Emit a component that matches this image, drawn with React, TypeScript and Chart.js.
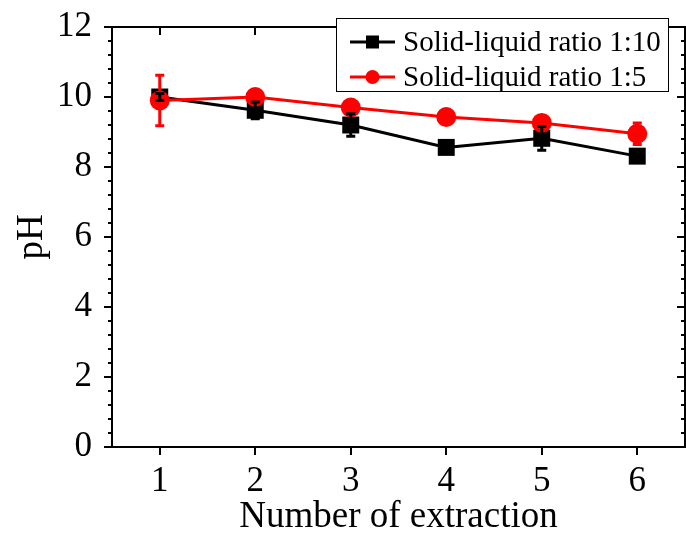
import React, { useEffect, useRef } from "react";
import { Chart, registerables } from "chart.js";

Chart.register(...registerables);

const FONT = "'Liberation Serif', 'Times New Roman', serif";

const extractions = [1, 2, 3, 4, 5, 6];
const xTickValues = [1, 2, 3, 4, 5, 6];
const yMajorTicks = [0, 2, 4, 6, 8, 10, 12];

const label110 = "Solid-liquid ratio 1:10";
const ph110 = [10.0, 9.62, 9.2, 8.56, 8.82, 8.31];
const err110 = [0.1, 0.24, 0.32, 0.12, 0.34, 0.1];

const label15 = "Solid-liquid ratio 1:5";
const ph15 = [9.9, 10.0, 9.7, 9.43, 9.26, 8.95];
const err15 = [0.72, 0.1, 0.1, 0.08, 0.1, 0.31];

const xTitle = "Number of extraction";
const yTitle = "pH";

const W = 686;
const H = 536;
// target plot-area frame (pixels)
const AREA = { left: 112, right: 685, top: 27, bottom: 447 };

const framePlugin = {
  id: "frame",
  afterDatasetsDraw(chart: any) {
    const ctx = chart.ctx;
    const xs = chart.scales.x;
    const ys = chart.scales.y;
    const order = [1, 0];
    order.forEach((di) => {
      const ds = chart.data.datasets[di];
      const errs: number[] = ds.errorBars;
      ctx.save();
      ctx.strokeStyle = ds.borderColor;
      ctx.lineWidth = 3;
      ds.data.forEach((p: any, i: number) => {
        const x = xs.getPixelForValue(p.x);
        const y1 = ys.getPixelForValue(p.y + errs[i]);
        const y2 = ys.getPixelForValue(p.y - errs[i]);
        ctx.beginPath();
        ctx.moveTo(x, y1);
        ctx.lineTo(x, y2);
        ctx.moveTo(x - 4.5, y1);
        ctx.lineTo(x + 4.5, y1);
        ctx.moveTo(x - 4.5, y2);
        ctx.lineTo(x + 4.5, y2);
        ctx.stroke();
      });
      ctx.restore();
    });
  },
  afterDraw(chart: any) {
    const ctx = chart.ctx;
    const { left, right, top, bottom } = chart.chartArea;
    const xs = chart.scales.x;
    const ys = chart.scales.y;
    ctx.save();
    ctx.strokeStyle = "#000";
    ctx.lineWidth = 2;
    ctx.beginPath();
    ctx.moveTo(left, top);
    ctx.lineTo(right, top);
    ctx.lineTo(right, bottom);
    ctx.stroke();
    xTickValues.forEach((v) => {
      const x = Math.round(xs.getPixelForValue(v));
      ctx.beginPath();
      ctx.moveTo(x, bottom);
      ctx.lineTo(x, bottom + 8);
      ctx.moveTo(x, top);
      ctx.lineTo(x, top + 8);
      ctx.stroke();
    });
    const yMin = ys.min;
    const yMax = ys.max;
    const steps = Math.round((yMax - yMin) / 0.4);
    for (let i = 0; i <= steps; i++) {
      const v = yMin + i * 0.4;
      const y = Math.round(ys.getPixelForValue(v));
      const len = i % 5 === 0 ? 8 : 4;
      ctx.beginPath();
      ctx.moveTo(left, y);
      ctx.lineTo(left - len, y);
      ctx.moveTo(right, y);
      ctx.lineTo(right - len, y);
      ctx.stroke();
    }
    ctx.restore();

    // legend (anchored to the plot frame's top-right corner)
    const bx = right - 348.5;
    const by = top - 8.5;
    const bw = 332;
    const bh = 73;
    ctx.save();
    ctx.fillStyle = "#fff";
    ctx.fillRect(bx, by, bw, bh);
    ctx.strokeStyle = "#000";
    ctx.lineWidth = 1;
    ctx.strokeRect(bx, by, bw, bh);
    const rows = [
      { label: label110, color: "#000", style: "rect", dy: 23.5 },
      { label: label15, color: "#ff0000", style: "circle", dy: 58.5 },
    ];
    rows.forEach((r) => {
      const ry = by + r.dy;
      const lx = bx + 13.5;
      ctx.strokeStyle = r.color;
      ctx.fillStyle = r.color;
      ctx.lineWidth = 3;
      ctx.beginPath();
      ctx.moveTo(lx, ry);
      ctx.lineTo(lx + 45, ry);
      ctx.stroke();
      ctx.beginPath();
      if (r.style === "rect") {
        ctx.fillRect(lx + 22.5 - 6.5, ry - 6.5, 13, 13);
      } else {
        ctx.arc(lx + 22.5, ry, 7, 0, Math.PI * 2);
        ctx.fill();
      }
      ctx.fillStyle = "#000";
      ctx.font = `29px ${FONT}`;
      ctx.textBaseline = "middle";
      ctx.textAlign = "left";
      ctx.fillText(r.label, lx + 53, ry + 1);
    });
    ctx.restore();
  },
};

function makeChart(canvas: HTMLCanvasElement) {
  return new Chart(canvas, {
    type: "line",
    data: {
      datasets: [
        {
          label: label110,
          data: extractions.map((x, i) => ({ x, y: ph110[i] })),
          borderColor: "#000000",
          backgroundColor: "#000000",
          borderWidth: 3,
          pointStyle: "rect",
          pointRadius: 12,
          pointBorderWidth: 0,
          order: 1,
          errorBars: err110,
        } as any,
        {
          label: label15,
          data: extractions.map((x, i) => ({ x, y: ph15[i] })),
          borderColor: "#ff0000",
          backgroundColor: "#ff0000",
          borderWidth: 3,
          pointStyle: "circle",
          pointRadius: 10,
          pointBorderWidth: 0,
          order: 0,
          errorBars: err15,
        } as any,
      ],
    },
    options: {
      animation: false,
      responsive: false,
      maintainAspectRatio: false,
      layout: { padding: { top: AREA.top, right: W - AREA.right, left: 0, bottom: 0 } },
      plugins: {
        legend: { display: false },
        tooltip: { enabled: false },
      },
      scales: {
        x: {
          type: "linear",
          min: 0.5,
          max: 6.5,
          afterBuildTicks: (axis: any) => {
            axis.ticks = xTickValues.map((v) => ({ value: v }));
          },
          afterFit: (axis: any) => {
            axis.height = H - AREA.bottom;
            axis.paddingLeft = 0;
            axis.paddingRight = 0;
            axis.paddingTop = 0;
            axis.paddingBottom = 0;
          },
          grid: { display: false },
          border: { display: true, color: "#000", width: 2 },
          ticks: {
            color: "#000",
            font: { family: FONT, size: 35 },
            padding: 6,
            maxRotation: 0,
            autoSkip: false,
          },
          title: {
            display: true,
            text: xTitle,
            color: "#000",
            font: { family: FONT, size: 37, lineHeight: 1 },
            padding: { top: 0, bottom: 0 },
          },
        },
        y: {
          type: "linear",
          min: 0,
          max: 12,
          afterBuildTicks: (axis: any) => {
            axis.ticks = yMajorTicks.map((v) => ({ value: v }));
          },
          afterFit: (axis: any) => {
            axis.width = AREA.left;
            axis.paddingLeft = 0;
            axis.paddingRight = 0;
            axis.paddingTop = 0;
            axis.paddingBottom = 0;
          },
          grid: { display: false },
          border: { display: true, color: "#000", width: 2 },
          ticks: {
            color: "#000",
            font: { family: FONT, size: 35 },
            padding: 12,
            autoSkip: false,
          },
          title: {
            display: true,
            text: yTitle,
            color: "#000",
            font: { family: FONT, size: 37, lineHeight: 1 },
            padding: { top: 14, bottom: 0 },
          },
        },
      },
    } as any,
    plugins: [framePlugin],
  });
}

export default function App() {
  const ref = useRef<HTMLCanvasElement>(null);
  useEffect(() => {
    document.body.style.margin = "0";
    const canvas = ref.current!;
    canvas.width = W;
    canvas.height = H;
    let chart = makeChart(canvas);
    // if the library's layout leaves the frame short on the right, widen the
    // canvas by the shortfall (the extra is clipped by the wrapper)
    const short = Math.round(AREA.right - chart.chartArea.right);
    if (short > 0) {
      chart.destroy();
      canvas.width = W + short;
      canvas.height = H;
      canvas.style.width = `${W + short}px`;
      canvas.style.height = `${H}px`;
      chart = makeChart(canvas);
    }
    return () => chart.destroy();
  }, []);
  return (
    <div style={{ position: "absolute", left: 0, top: 0, width: W, height: H, overflow: "hidden" }}>
      <canvas ref={ref} width={W} height={H} style={{ display: "block" }} />
    </div>
  );
}
